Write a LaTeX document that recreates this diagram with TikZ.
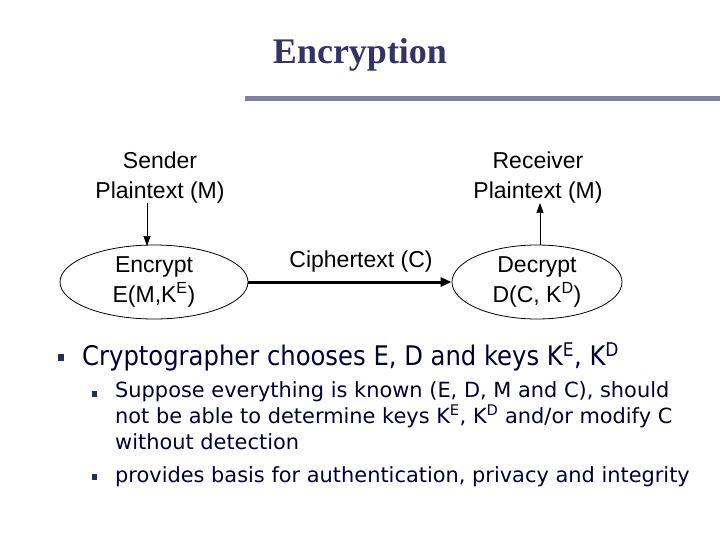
\documentclass[tikz,border=0pt]{standalone}
\usepackage{fontspec}
\setmainfont{Liberation Sans}
\newfontfamily\titlefont{Liberation Serif}
\newfontfamily\verd{DejaVu Sans}
\newfontfamily\verdc{DejaVu Sans Condensed}
\usetikzlibrary{shapes.geometric,arrows.meta}
\definecolor{titleblue}{HTML}{333366}
\definecolor{rulec}{HTML}{8080A8}
\definecolor{navy}{HTML}{000033}
\definecolor{bul}{HTML}{1F3050}
\begin{document}
\begin{tikzpicture}[x=1pt,y=-1pt,
  lbl/.style={font=\fontsize{23}{27}\selectfont,align=center,inner sep=0pt},
  proc/.style={ellipse,draw,line width=0.8pt,font=\fontsize{23}{27}\selectfont,align=center,inner sep=0pt},
  arr/.style={-{Triangle[length=10pt,width=7pt]},line width=0.7pt}]
\useasboundingbox (0,0) rectangle (720,540);
\node[font=\titlefont\bfseries\fontsize{36}{40}\selectfont,text=titleblue] (title) at (360,55) {Encryption};
\fill[rulec] (245,96) rectangle (720,101);
\node[lbl] (snd) at (160,178) {Sender\\[3pt]Plaintext (M)};
\node[lbl] (rcv) at (538,178) {Receiver\\[3pt]Plaintext (M)};
\node[proc,minimum width=188pt,minimum height=74pt] (enc) at (154,282) {Encrypt\\[3pt]E(M,K\textsuperscript{E})};
\node[proc,minimum width=170pt,minimum height=74pt] (dec) at (537,282) {Decrypt\\[3pt]D(C, K\textsuperscript{D})};
\node[lbl] (ct) at (361,262) {Ciphertext (C)};
\draw[arr] (147,203) -- (147,246);
\draw[arr] (540,245) -- (540,203);
\draw[-{Triangle[length=11pt,width=9pt]},line width=3pt] (enc.east) -- (dec.west);
\fill[bul] (58,354) rectangle (64,361);
\node[anchor=west,inner sep=0pt,text=navy,font=\verdc\fontsize{27}{30}\selectfont] (b1) at (82,357) {Cryptographer chooses E, D and keys K\textsuperscript{E}, K\textsuperscript{D}};
\fill[bul] (92,391) rectangle (97,397);
\fill[bul] (92,474) rectangle (97,480);
\node[anchor=north west,inner sep=0pt,align=left,text=navy,font=\verd\fontsize{20.9}{26}\selectfont] (b2) at (115,381) {Suppose everything is known (E, D, M and C), should\\not be able to determine keys K\textsuperscript{E}, K\textsuperscript{D} and/or modify C\\without detection};
\node[anchor=west,inner sep=0pt,text=navy,font=\verd\fontsize{20.9}{26}\selectfont] (b3) at (115,477) {provides basis for authentication, privacy and integrity};
\end{tikzpicture}
\end{document}
